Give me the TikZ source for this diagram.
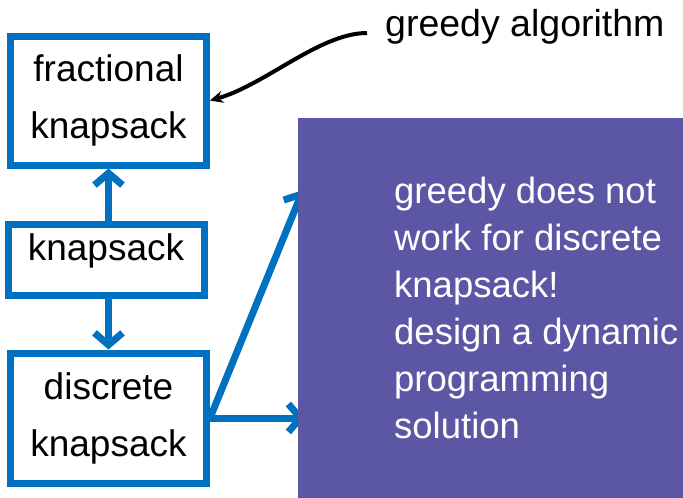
\documentclass[tikz,border=0pt]{standalone}
\usepackage{fontspec}
\setmainfont{Liberation Sans}
\usetikzlibrary{arrows.meta}
\definecolor{boxblue}{RGB}{0,112,192}
\definecolor{notepurple}{RGB}{92,87,165}
\tikzset{
  box/.style={draw=boxblue, line width=7pt, minimum width=196pt, align=center,
    inner sep=0pt, font=\fontsize{37}{57}\selectfont},
  link/.style={draw=boxblue, line width=7pt, -{Straight Barb[length=12pt,width=28pt]}},
}
\begin{document}
\begin{tikzpicture}[x=1pt,y=-1pt]
            \useasboundingbox (0,0) rectangle (683,498);

            % Блоки задач
            \node[box, minimum height=129pt] (frac) at (108.5,100.5) {fractional\\knapsack};
            \node[box, minimum height=71pt, text height=20pt, text depth=18pt] (knap) at (106,259.5) {knapsack};
            \node[box, minimum height=130pt] (disc) at (108.5,418) {discrete\\knapsack};

            % Концы стрелок под пояснением
            \coordinate (hitTop) at (303,190);
            \coordinate (hitMid) at (305,418);

            % Стрелки между блоками
            \draw[link] (knap.north -| frac) -- (frac);
            \draw[link] (knap.south -| disc) -- (disc);
            \draw[link] (disc.east) -- (hitTop);
            \draw[link] (disc.east) -- (hitMid);

            % Пояснение
            \node[fill=notepurple, minimum width=385pt, minimum height=380pt, inner sep=0pt] (note) at (490.5,308) {};
            \node[anchor=north west, inner sep=0pt, align=left, text=white,
                  font=\fontsize{36.5}{47}\selectfont] (noteText) at (394,177)
                  {greedy does not\\work for discrete\\knapsack!\\design a dynamic\\programming\\solution};

            % Подпись и кривая стрелка
            \node[anchor=base west, inner sep=0pt, font=\fontsize{37.5}{47}\selectfont] (greedy) at (385,36) {greedy algorithm};
            \draw[line width=4pt, -{Stealth[length=13pt,width=12pt]}]
                (greedy.base west) ++(-18,-3) .. controls (320,33) and (265,85) .. (frac.east);
        \end{tikzpicture}
\end{document}
